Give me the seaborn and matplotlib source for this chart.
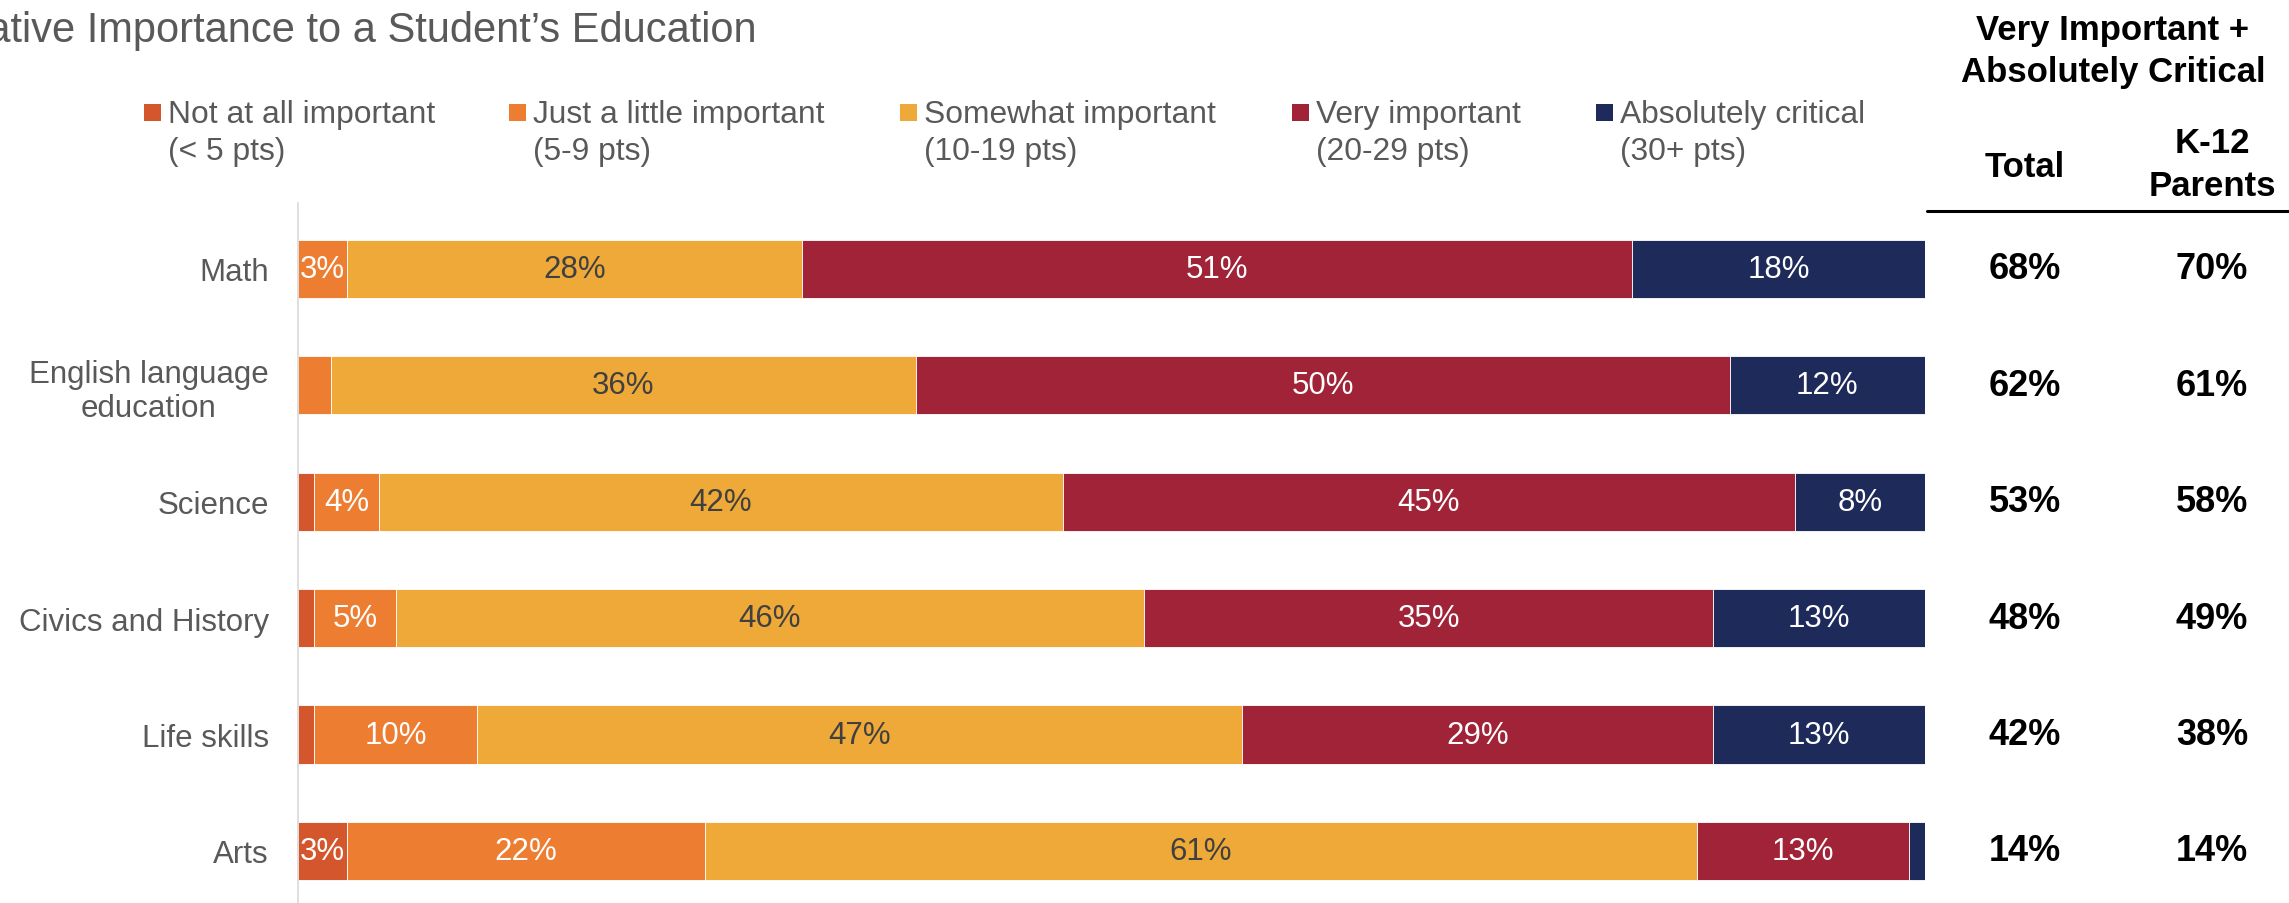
import matplotlib
matplotlib.use("Agg")
import matplotlib.pyplot as plt
import matplotlib.transforms as mtransforms
from matplotlib.patches import Rectangle
from matplotlib.lines import Line2D
import numpy as np
import seaborn as sns

# ---- data -------------------------------------------------------------
subjects = ["Math", "English language\neducation", "Science",
            "Civics and History", "Life skills", "Arts"]
levels = ["Not at all important", "Just a little important",
          "Somewhat important", "Very important", "Absolutely critical"]
level_ranges = ["(< 5 pts)", "(5-9 pts)", "(10-19 pts)",
                "(20-29 pts)", "(30+ pts)"]

not_at_all = [0, 0, 1, 1, 1, 3]
just_a_little = [3, 2, 4, 5, 10, 22]
somewhat = [28, 36, 42, 46, 47, 61]
very = [51, 50, 45, 35, 29, 13]
absolutely = [18, 12, 8, 13, 13, 1]

top2_total = [68, 62, 53, 48, 42, 14]
top2_parents = [70, 61, 58, 49, 38, 14]

# ---- styling ------------------------------------------------------------
seg_colors = ["#D4562C", "#ED7D31", "#EFA938", "#A02337", "#1E2A5A"]
seg_text = ["white", "white", "#404040", "white", "white"]
gray = "#595959"

sns.set_theme(style="white")
plt.rcParams["font.family"] = ["Liberation Sans", "DejaVu Sans"]

W, H = 2289, 904
fig = plt.figure(figsize=(W / 100, H / 100), dpi=100)


def fx(px):
    return px / W


def fy(py):
    return 1 - py / H


ax = fig.add_axes([fx(298), 0, (1925 - 298) / W, 1 - 204 / H])

series = [not_at_all, just_a_little, somewhat, very, absolutely]
left = np.zeros(len(subjects))
for vals, color, tcolor in zip(series, seg_colors, seg_text):
    vals = np.asarray(vals, dtype=float)
    sns.barplot(x=vals, y=subjects, left=left, color=color, saturation=1,
                width=0.5, errorbar=None, orient="h", edgecolor="white",
                linewidth=0.6, ax=ax)
    for i, v in enumerate(vals):
        if v >= 3:
            ax.text(left[i] + v / 2, i, f"{v:g}%", ha="center", va="center",
                    fontsize=22.5, color=tcolor)
    left = left + vals

ax.set_xlim(0, 100)
ax.set_ylim(5.447, -0.567)
ax.set_xlabel("")
ax.set_ylabel("")
ax.set_xticks([])
for side in ("top", "right", "bottom"):
    ax.spines[side].set_visible(False)
ax.spines["left"].set_color("#D9D9D9")
ax.spines["left"].set_linewidth(1.2)
ax.tick_params(axis="y", length=0, pad=21, labelsize=22.5, labelcolor=gray)
for lbl in ax.get_yticklabels():
    lbl.set_multialignment("center")

# ---- summary columns ----------------------------------------------------
trans = mtransforms.blended_transform_factory(fig.transFigure, ax.transData)
for i, (t, p) in enumerate(zip(top2_total, top2_parents)):
    ax.text(fx(2025), i, f"{t}%", transform=trans, ha="center", va="center",
            fontsize=26, fontweight="bold", color="black", clip_on=False)
    ax.text(fx(2212), i, f"{p}%", transform=trans, ha="center", va="center",
            fontsize=26, fontweight="bold", color="black", clip_on=False)

hdr = dict(ha="center", va="baseline", fontsize=25, fontweight="bold",
           color="black")
fig.text(fx(2113), fy(40), "Very Important +", **hdr)
fig.text(fx(2113), fy(82), "Absolutely Critical", **hdr)
fig.text(fx(2025), fy(177), "Total", **hdr)
fig.text(fx(2212), fy(153), "K-12", **hdr)
fig.text(fx(2212), fy(196), "Parents", **hdr)
fig.add_artist(Line2D([fx(1927), 1], [fy(212), fy(212)],
                      transform=fig.transFigure, color="black", lw=2.2))

# ---- legend -------------------------------------------------------------
legend_x = [144, 509, 900, 1292, 1596]
for x0, name, rng, color in zip(legend_x, levels, level_ranges, seg_colors):
    fig.add_artist(Rectangle((fx(x0), fy(122)), 17 / W, 17 / H,
                             transform=fig.transFigure, color=color, lw=0))
    fig.text(fx(x0 + 24), fy(123), name, ha="left", va="baseline",
             fontsize=22.9, color=gray)
    fig.text(fx(x0 + 24), fy(160), rng, ha="left", va="baseline",
             fontsize=22.9, color=gray)

# ---- title --------------------------------------------------------------
fig.text(fx(-75), fy(42), "Relative Importance to a Student\u2019s Education",
         ha="left", va="baseline", fontsize=30, color=gray)

fig.savefig("out.png", dpi=100)
